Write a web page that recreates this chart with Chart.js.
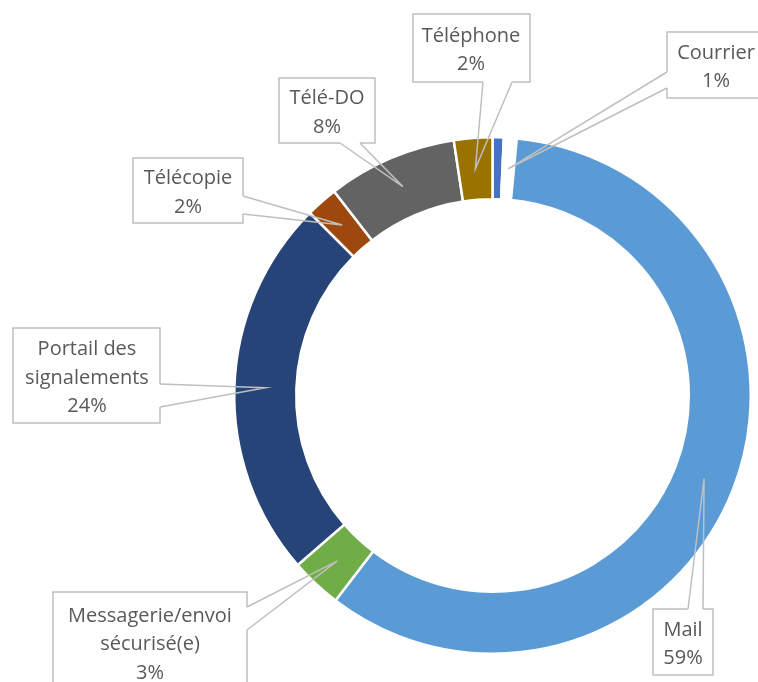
<!DOCTYPE html>
<html><head><meta charset="utf-8">
<script src="https://cdn.jsdelivr.net/npm/chart.js@4"></script>
<style>html,body{margin:0;padding:0;background:#fff;overflow:hidden}#wrap{width:758px;height:682px;position:relative}</style>
</head><body><div id="wrap"><canvas id="c"></canvas></div>
<script>
// Categories in clockwise order from 12 o'clock
const categories = ['', 'Courrier', 'Mail', 'Messagerie/envoi sécurisé(e)', 'Portail des signalements', 'Télécopie', 'Télé-DO', 'Téléphone'];
const labelLines = [null, ['Courrier'], ['Mail'], ['Messagerie/envoi', 'sécurisé(e)'], ['Portail des', 'signalements'], ['Télécopie'], ['Télé-DO'], ['Téléphone']];
const values = [0.7, 0.8, 58.9, 3.2, 23.9, 2.0, 8.1, 2.4];
const colors = ['#4472C4', '#FFFFFF', '#5B9BD5', '#70AD47', '#264478', '#9E480E', '#636363', '#997300'];

// Callout boxes (layout only): box rect, and the two base points of the pointer on the box edge
const callouts = {
  1: {box: [667, 32, 100, 66], tx: 716, base: [[667, 72], [667, 88]]},
  2: {box: [653, 609, 60, 66], tx: 683, base: [[688, 609], [703, 609]]},
  3: {box: [53, 592, 194, 100], tx: 150, base: [[247, 607], [247, 630]]},
  4: {box: [13, 328, 147, 95], tx: 87, base: [[160, 384], [160, 407]]},
  5: {box: [133, 158, 110, 65], tx: 188, base: [[243, 196], [243, 214]]},
  6: {box: [279, 78, 96, 65], tx: 327, base: [[340, 143], [360, 143]]},
  7: {box: [413, 14, 117, 68], tx: 471, base: [[483, 82], [512, 82]]}
};

const total = values.reduce((a, b) => a + b, 0);

const calloutPlugin = {
  id: 'callouts',
  afterDatasetsDraw(chart) {
    const ctx = chart.ctx;
    const meta = chart.getDatasetMeta(0);
    ctx.save();
    const stroke = '#BFBFBF';
    Object.keys(callouts).forEach(k => {
      const i = +k;
      const c = callouts[i];
      const arc = meta.data[i];
      const p = arc.getProps(['x', 'y', 'startAngle', 'endAngle', 'innerRadius', 'outerRadius'], true);
      const a = (p.startAngle + p.endAngle) / 2;
      const r = (p.innerRadius + p.outerRadius) / 2;
      const tip = [p.x + Math.cos(a) * r, p.y + Math.sin(a) * r];
      const [bx, by, bw, bh] = c.box;
      ctx.fillStyle = '#FFFFFF';
      ctx.strokeStyle = stroke;
      ctx.lineWidth = 1.5;
      ctx.fillRect(bx, by, bw, bh);
      ctx.strokeRect(bx, by, bw, bh);
      ctx.beginPath();
      ctx.moveTo(c.base[0][0], c.base[0][1]);
      ctx.lineTo(c.base[1][0], c.base[1][1]);
      ctx.strokeStyle = '#FFFFFF';
      ctx.lineWidth = 2.2;
      ctx.stroke();
      ctx.beginPath();
      ctx.moveTo(c.base[0][0], c.base[0][1]);
      ctx.lineTo(tip[0], tip[1]);
      ctx.lineTo(c.base[1][0], c.base[1][1]);
      ctx.strokeStyle = stroke;
      ctx.lineWidth = 1.5;
      ctx.lineJoin = 'miter';
      ctx.stroke();
      const lines = labelLines[i].concat([Math.round(values[i] / total * 100) + '%']);
      ctx.fillStyle = '#595959';
      ctx.font = '20px "Open Sans", Lato, sans-serif';
      ctx.textAlign = 'center';
      ctx.textBaseline = 'middle';
      const lh = 28.5;
      const cy = by + Math.min(bh, 100) / 2 + 2.5;
      const y0 = cy - (lines.length - 1) * lh / 2;
      lines.forEach((t, j) => ctx.fillText(t, c.tx, y0 + j * lh));
    });
    ctx.restore();
  }
};

new Chart(document.getElementById('c'), {
  type: 'doughnut',
  data: {
    labels: categories,
    datasets: [{
      data: values,
      backgroundColor: colors,
      borderColor: '#FFFFFF',
      borderWidth: 2.5,
      borderJoinStyle: 'miter'
    }]
  },
  options: {
    responsive: true,
    maintainAspectRatio: false,
    animation: false,
    cutout: '76%',
    layout: {padding: {left: 233, right: 6, top: 136, bottom: 27}},
    plugins: {legend: {display: false}, tooltip: {enabled: false}}
  },
  plugins: [calloutPlugin]
});
</script>
</body></html>
